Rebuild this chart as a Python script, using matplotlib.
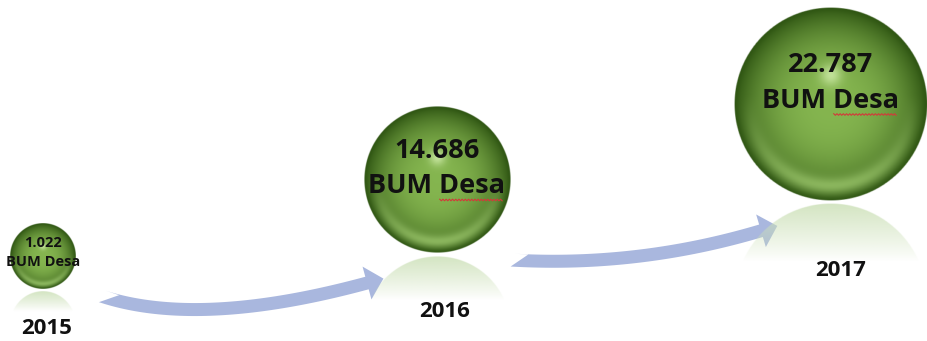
import numpy as np
import matplotlib.pyplot as plt
from matplotlib.patches import Polygon

# data
years = ['2015', '2016', '2017']
units = [1022, 14686, 22787]
unit_name = 'BUM Desa'

W, H = 927, 341
FONT = 'Open Sans'
ARROW_COLOR = '#a9b7de'


def fmt(v):
    return f'{v:,}'.replace(',', '.')


def sphere_rgba(n=320):
    t = np.linspace(-1, 1, n)
    u, v = np.meshgrid(t, t)
    d = np.hypot(u, v)
    light = np.array([0.52, 0.71, 0.31])
    dark = np.array([0.18, 0.33, 0.07])
    f = np.clip(d, 0, 1) ** 2.6
    rgb = light * (1 - f)[..., None] + dark * f[..., None]
    # rim light on the lower part
    g = np.exp(-((d - 0.84) / 0.09) ** 2) * np.clip(v + 0.1, 0, 1) ** 1.2 * 0.65
    rgb = rgb * (1 - g[..., None]) + np.array([0.70, 0.87, 0.50]) * g[..., None]
    # specular spot
    h = np.exp(-(u ** 2 + (v + 0.3) ** 2) / 0.012) * 0.7
    rgb = rgb * (1 - h[..., None]) + np.array([0.86, 0.96, 0.72]) * h[..., None]
    # dark outer edge
    e = np.clip((d - 0.94) / 0.06, 0, 1) * 0.4
    rgb = rgb * (1 - e[..., None]) + dark * e[..., None]
    alpha = np.clip((1 - d) * n / 2, 0, 1)
    return np.dstack([np.clip(rgb, 0, 1), alpha])


def reflection_rgba(n=320):
    t = np.linspace(-1, 1, n)
    u, v = np.meshgrid(t, t)
    d = np.hypot(u, v)
    yy = (v + 1) / 2
    fade = np.clip(1 - yy / 0.3, 0, 1) ** 0.9
    img = np.zeros((n, n, 4))
    img[..., :3] = np.array([0.80, 0.88, 0.72])
    img[..., 3] = np.clip((1 - d) * n / 2, 0, 1) * 0.85 * fade
    return img


def arrow_polygon(p0, p1, p2, width, head_w, head_l):
    t = np.linspace(0, 1, 60)[:, None]
    pts = (1 - t) ** 2 * p0 + 2 * (1 - t) * t * p1 + t ** 2 * p2
    tan = 2 * (1 - t) * (p1 - p0) + 2 * t * (p2 - p1)
    tan = tan / np.linalg.norm(tan, axis=1)[:, None]
    nor = np.column_stack([tan[:, 1], -tan[:, 0]])
    upper = pts + nor * width / 2
    lower = pts - nor * width / 2
    upper[0] = upper[0] + tan[0] * width * 1.3  # slanted tail cut
    e, te, ne = pts[-1], tan[-1], nor[-1]
    head = [e + ne * head_w, e + te * head_l, e - ne * head_w]
    return np.vstack([upper, head, lower[::-1]])


fig = plt.figure(figsize=(W / 100, H / 100), dpi=100)
ax = fig.add_axes([0, 0, 1, 1])
ax.set_xlim(0, W)
ax.set_ylim(H, 0)
ax.axis('off')

n = len(units)
cx = [43 + 394 * i for i in range(n)]
cy = [256 - 76 * i for i in range(n)]
rad = [30 + v * 0.00293 for v in units]

# connecting arrows: (length, bend dx, bend dy)
arrow_shape = [(266, -35, 39), (250, 2, 22)]
for i in range(n - 1):
    ln, bx, by = arrow_shape[i]
    p2 = np.array([cx[i + 1] - 70, cy[i + 1] + rad[i + 1] + 30])
    p0 = np.array([p2[0] - ln, cy[i] + rad[i] + 7])
    p1 = (p0 + p2) / 2 + np.array([bx, by])
    poly = arrow_polygon(p0, p1, p2, 13, 17, 17)
    ax.add_patch(Polygon(poly, closed=True, fc=ARROW_COLOR, ec='none', zorder=1))

sph = sphere_rgba()
refl = reflection_rgba()
renderer = fig.canvas.get_renderer()
for i in range(n):
    x, y, r = cx[i], cy[i], rad[i]
    ax.imshow(refl, extent=(x - r, x + r, y + 3 * r + 3, y + r + 3), zorder=2,
              interpolation='bilinear')
    ax.imshow(sph, extent=(x - r, x + r, y + r, y - r), zorder=3,
              interpolation='bilinear')

    fs = min(19.5, r * 0.32)
    line_px = fs * 100 / 72 * 1.3
    y1 = y - 0.4 * r
    ax.text(x, y1, fmt(units[i]), ha='center', va='center', fontsize=fs,
            fontweight='bold', family=FONT, color='#111111', zorder=4)
    t2 = ax.text(x, y1 + line_px, unit_name, ha='center', va='center',
                 fontsize=fs, fontweight='bold', family=FONT,
                 color='#111111', zorder=4)
    if r > 50:
        bb = t2.get_window_extent(renderer).transformed(ax.transData.inverted())
        x0 = bb.x0 + 0.52 * (bb.x1 - bb.x0)
        x1 = bb.x1 - 0.02 * (bb.x1 - bb.x0)
        yb = max(bb.y0, bb.y1) + 1
        zx = np.arange(x0, x1, 1.6)
        zy = yb + np.where(np.arange(len(zx)) % 2 == 0, -0.8, 0.8)
        ax.plot(zx, zy, color='#d23a3a', lw=0.8, zorder=5)

    ax.text(x + 0.1 * r, y + r + 24 + 0.47 * r, years[i], ha='center',
            va='center', fontsize=16, fontweight='bold', family=FONT,
            color='#111111', zorder=4)

fig.savefig('out.png', dpi=100)
